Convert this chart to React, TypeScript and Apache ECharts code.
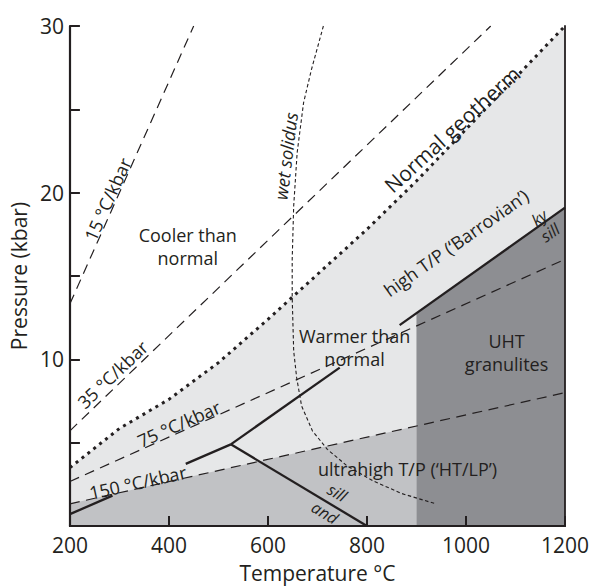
import React, { useEffect, useRef } from "react";
import * as echarts from "echarts";

// Axis ranges and ticks
const T_MIN = 200;
const T_MAX = 1200;
const T_STEP = 200;
const P_MIN = 0;
const P_MAX = 30;
const P_STEP = 5;
const P_LABELS = [10, 20, 30];

// Normal geotherm (°C, kbar)
const geothermT = [200, 300, 400, 500, 600, 700, 800, 900, 1000, 1100, 1200];
const geothermP = [3.5, 5.85, 7.6, 9.8, 12.4, 15.1, 17.8, 20.7, 23.8, 26.9, 30];

// Wet solidus
const solidusT = [712, 688, 672, 659, 652, 649, 649, 652, 658, 668, 690, 720, 760, 813, 870, 939];
const solidusP = [30, 27.4, 25.4, 22.4, 19.2, 16, 13.7, 10.5, 8.9, 7.2, 5.7, 4.6, 3.6, 2.7, 1.95, 1.33];

// Thermal gradients (°C/kbar) drawn as dashed lines
const grad15 = [[200, 13.33], [450, 30]];
const grad35 = [[200, 5.71], [1050, 30]];
const grad75 = [[200, 2.67], [1200, 16]];
const grad150 = [[200, 1.33], [1200, 8]];

// Shaded fields
const ultrahighField = [[200, 1.33], [900, 6]];
const uhtField = [[900, 12.8], [1200, 19.1]];

// Al2SiO5 phase boundaries (split where labels sit)
const kySillLower = [[525, 4.9], [745, 9.5]];
const kySillUpper = [[866, 12.05], [1200, 19.1]];
const andKyUpper = [[525, 4.9], [434, 3.73]];
const andKyLower = [[286, 1.82], [200, 0.71]];
const andSill = [[525, 4.9], [800, 0]];

const INK = "#231f20";
const LIGHT = "#e6e7e8";
const MEDIUM = "#c1c2c5";
const DARK = "#8d8e92";
const FONT = "Open Sans";

type Note = {
  text: string;
  at: [number, number];
  rot: number; // degrees, counter-clockwise
  size?: number;
  italic?: boolean;
  lh?: number;
};

const notes: Note[] = [
  { text: "Normal geotherm", at: [972, 23.8], rot: 42.5, size: 21 },
  { text: "wet solidus", at: [636, 22.2], rot: 83, size: 18, italic: true },
  { text: "Cooler than\nnormal", at: [438, 16.8], rot: 0, lh: 23 },
  { text: "Warmer than\nnormal", at: [775, 10.7], rot: 0, lh: 23 },
  { text: "high T/P (\u2018Barrovian\u2019)", at: [980, 17.0], rot: 35 },
  { text: "ky", at: [1148, 18.5], rot: 35, size: 16, italic: true },
  { text: "sill", at: [1170, 17.6], rot: 35, size: 16, italic: true },
  { text: "UHT\ngranulites", at: [1082, 10.4], rot: 0, lh: 23 },
  { text: "ultrahigh T/P (\u2018HT/LP\u2019)", at: [882, 3.45], rot: 0 },
  { text: "sill", at: [740, 2.0], rot: -30.7, size: 16, italic: true },
  { text: "and", at: [715, 0.8], rot: -30.7, size: 16, italic: true },
  { text: "15 \u00b0C/kbar", at: [276, 19.6], rot: 65.7 },
  { text: "35 \u00b0C/kbar", at: [286, 9.1], rot: 43.5 },
  { text: "75 \u00b0C/kbar", at: [420, 6.13], rot: 23.9 },
  { text: "150 \u00b0C/kbar", at: [337, 2.62], rot: 12.5 },
];

const zip = (xs: number[], ys: number[]) => xs.map((x, i) => [x, ys[i]]);

function fill(data: number[][], color: string, z: number) {
  return {
    type: "line",
    data,
    symbol: "none",
    silent: true,
    z,
    lineStyle: { width: 0, opacity: 0 },
    areaStyle: { color, opacity: 1, origin: "start" },
  };
}

function stroke(data: number[][], width: number, type: any, z: number) {
  return {
    type: "line",
    data,
    symbol: "none",
    silent: true,
    z,
    lineStyle: { color: INK, width, type, cap: "butt" },
  };
}

export default function App() {
  const ref = useRef<HTMLDivElement>(null);

  useEffect(() => {
    if (!ref.current) return;
    const chart = echarts.init(ref.current, null, { renderer: "svg" });
    const frameAxis = {
      type: "value",
      axisLine: { show: true, lineStyle: { color: INK, width: 1.8 } },
      axisTick: { show: false },
      axisLabel: { show: false },
      splitLine: { show: false },
      z: 10,
    };
    chart.setOption({
      animation: false,
      backgroundColor: "#ffffff",
      textStyle: { fontFamily: FONT },
      grid: { left: 67, right: 20, top: 26, bottom: 58 },
      xAxis: [
        {
          type: "value",
          min: T_MIN,
          max: T_MAX,
          interval: T_STEP,
          z: 10,
          name: "Temperature \u00b0C",
          nameLocation: "middle",
          nameGap: 36,
          nameTextStyle: { fontFamily: FONT, fontSize: 21, color: INK },
          axisLine: { show: true, lineStyle: { color: INK, width: 2.2 } },
          axisTick: { show: true, inside: true, length: 10, lineStyle: { color: INK, width: 2 } },
          axisLabel: {
            fontFamily: FONT,
            fontSize: 21,
            color: INK,
            margin: 8,
            formatter: (v: number) => String(v),
          },
          splitLine: { show: false },
        },
        { ...frameAxis, position: "top", min: T_MIN, max: T_MAX },
      ],
      yAxis: [
        {
          type: "value",
          min: P_MIN,
          max: P_MAX,
          interval: P_STEP,
          z: 10,
          name: "Pressure (kbar)",
          nameLocation: "middle",
          nameGap: 35,
          nameRotate: 90,
          nameTextStyle: { fontFamily: FONT, fontSize: 21, color: INK },
          axisLine: { show: true, lineStyle: { color: INK, width: 2.2 } },
          axisTick: { show: true, inside: true, length: 10, lineStyle: { color: INK, width: 2 } },
          axisLabel: {
            fontFamily: FONT,
            fontSize: 21,
            color: INK,
            margin: 6,
            formatter: (v: number) => (P_LABELS.includes(v) ? String(v) : ""),
          },
          splitLine: { show: false },
        },
        { ...frameAxis, position: "right", min: P_MIN, max: P_MAX },
      ],
      series: [
        fill(zip(geothermT, geothermP), LIGHT, 1),
        fill(ultrahighField, MEDIUM, 2),
        fill(uhtField, DARK, 2),
        stroke(grad15, 1.2, [10, 6.5], 3),
        stroke(grad35, 1.2, [10, 6.5], 3),
        stroke(grad75, 1.2, [10, 6.5], 3),
        stroke(grad150, 1.2, [10, 6.5], 3),
        stroke(zip(solidusT, solidusP), 1.1, [3.5, 2.5], 3),
        stroke(zip(geothermT, geothermP), 3, [3, 4.5], 4),
        stroke(kySillLower, 2.3, "solid", 5),
        stroke(kySillUpper, 2.3, "solid", 5),
        stroke(andKyUpper, 2.3, "solid", 5),
        stroke(andKyLower, 2.3, "solid", 5),
        stroke(andSill, 2.3, "solid", 5),
      ],
    });

    const graphics = notes.map((n) => {
      const [px, py] = chart.convertToPixel({ gridIndex: 0 }, n.at) as number[];
      return {
        type: "text",
        x: px,
        y: py,
        rotation: (n.rot * Math.PI) / 180,
        z: 20,
        silent: true,
        style: {
          text: n.text,
          fontFamily: FONT,
          fontSize: n.size ?? 18,
          fontStyle: n.italic ? "italic" : "normal",
          lineHeight: n.lh,
          fill: INK,
          align: "center",
          verticalAlign: "middle",
        },
      };
    });
    chart.setOption({ graphic: graphics });

    return () => chart.dispose();
  }, []);

  return (
    <div
      ref={ref}
      style={{ position: "absolute", left: 0, top: 0, width: 592, height: 588 }}
    />
  );
}
